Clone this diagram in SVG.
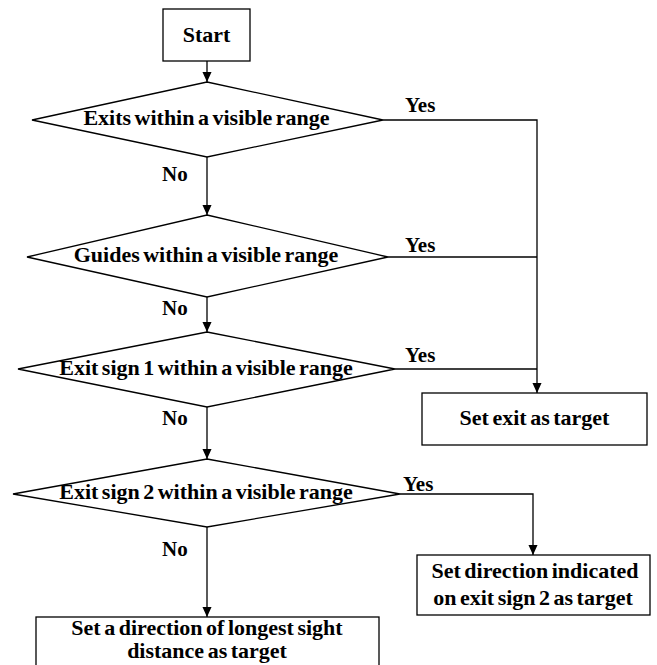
<svg xmlns="http://www.w3.org/2000/svg" width="657" height="665" viewBox="0 0 657 665">
<defs>
<marker id="arr" markerWidth="10" markerHeight="11" refX="11" refY="5" orient="auto" markerUnits="userSpaceOnUse" viewBox="0 0 11 10">
<path d="M0,0 L11,5 L0,10 z" fill="#000"/>
</marker>
</defs>
<style>
.shape{fill:#fff;stroke:#000;stroke-width:1.3}
.line{fill:none;stroke:#000;stroke-width:1.3}
.t{font-family:"Liberation Serif","Times New Roman",serif;font-weight:bold;font-size:22px;fill:#000;text-anchor:middle;word-spacing:-2px}
.lbl{font-family:"Liberation Serif","Times New Roman",serif;font-weight:bold;font-size:21px;fill:#000}
</style>
<rect width="657" height="665" fill="#fff"/>
<g id="connectors">
<line class="line" x1="207" y1="61" x2="207" y2="82" marker-end="url(#arr)"/>
<line class="line" x1="207" y1="157" x2="207" y2="215" marker-end="url(#arr)"/>
<line class="line" x1="207" y1="297" x2="207" y2="332" marker-end="url(#arr)"/>
<line class="line" x1="207" y1="407" x2="207" y2="459" marker-end="url(#arr)"/>
<line class="line" x1="207" y1="527" x2="207" y2="617" marker-end="url(#arr)"/>
<polyline class="line" points="383,120 537,120 537,393" marker-end="url(#arr)"/>
<line class="line" x1="388" y1="257" x2="537" y2="257"/>
<line class="line" x1="395" y1="369" x2="537" y2="369"/>
<polyline class="line" points="400,494 533,494 533,555" marker-end="url(#arr)"/>
<text class="lbl" x="162" y="181">No</text>
<text class="lbl" x="162" y="315">No</text>
<text class="lbl" x="162" y="425">No</text>
<text class="lbl" x="162" y="556">No</text>
<text class="lbl" x="405" y="112">Yes</text>
<text class="lbl" x="405" y="252">Yes</text>
<text class="lbl" x="405" y="362">Yes</text>
<text class="lbl" x="403" y="491">Yes</text>
</g>
<g id="start">
<rect class="shape" x="163" y="9" width="87" height="52"/>
<text class="t" x="206.5" y="42">Start</text>
</g>
<g id="d1">
<polygon class="shape" points="207,82 383,120 207,157 32,120"/>
<text class="t" x="206.5" y="125">Exits within a visible range</text>
</g>
<g id="d2">
<polygon class="shape" points="207,215 388,257 207,297 27,257"/>
<text class="t" x="206" y="262">Guides within a visible range</text>
</g>
<g id="d3">
<polygon class="shape" points="207,332 395,369 207,407 18,369"/>
<text class="t" x="206" y="375">Exit sign 1 within a visible range</text>
</g>
<g id="d4">
<polygon class="shape" points="207,459 400,494 207,527 13,494"/>
<text class="t" x="206" y="499">Exit sign 2 within a visible range</text>
</g>
<g id="exit">
<rect class="shape" x="422" y="393" width="225" height="52"/>
<text class="t" x="534.5" y="425">Set exit as target</text>
</g>
<g id="sign2">
<rect class="shape" x="417" y="555" width="233" height="60"/>
<text class="t" x="535" y="578">Set direction indicated</text>
<text class="t" x="533" y="605">on exit sign 2 as target</text>
</g>
<g id="longest">
<rect class="shape" x="36" y="617" width="343" height="60"/>
<text class="t" x="207" y="635">Set a direction of longest sight</text>
<text class="t" x="207" y="658">distance as target</text>
</g>
</svg>
